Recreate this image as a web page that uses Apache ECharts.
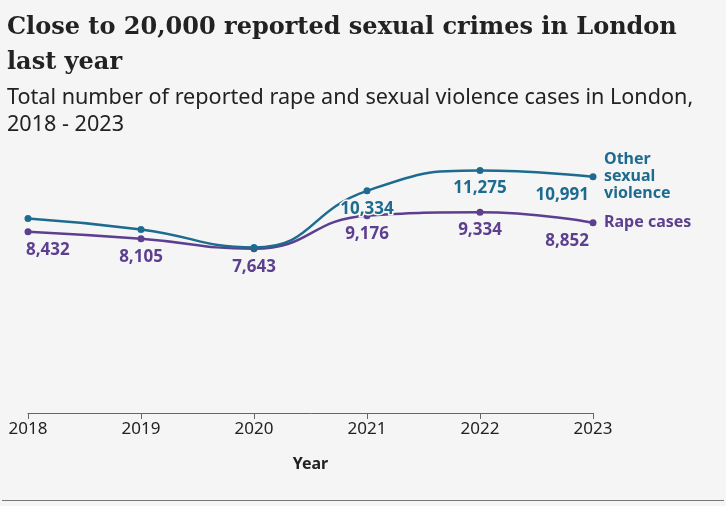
<!DOCTYPE html>
<html>
<head>
<meta charset="utf-8">
<script src="https://cdn.jsdelivr.net/npm/echarts@6/dist/echarts.min.js"></script>
<style>
  html, body { margin: 0; padding: 0; background: #f5f5f5; }
  #chart { width: 726px; height: 506px; }
</style>
</head>
<body>
<div id="chart"></div>
<script>
var years = ['2018', '2019', '2020', '2021', '2022', '2023'];
var otherViolence = [9050, 8540, 7700, 10334, 11275, 10991];
var rapeCases = [8432, 8105, 7643, 9176, 9334, 8852];
// only these points carry a value label on the other series
var otherLabelShown = [false, false, false, true, true, true];

var teal = '#1d6b8e';
var purple = '#5c3f8e';

var myChart = echarts.init(document.getElementById('chart'));

function labelled(values, shown) {
    var last = values.length - 1;
    return values.map(function (v, i) {
        var lab = { show: shown ? shown[i] : true };
        if (i === 0) { lab.align = 'left'; lab.offset = [-2, 0]; }
        if (i === last) { lab.align = 'right'; lab.offset = [-4, 0]; }
        return { value: v, label: lab };
    });
}

var option = {
    backgroundColor: '#f5f5f5',
    animation: false,
    title: [
        {
            text: 'Close to 20,000 reported sexual crimes in London\nlast year',
            left: 2, top: 5,
            textStyle: { fontFamily: 'DejaVu Serif', fontWeight: 'bold', fontSize: 24, lineHeight: 35, color: '#222' }
        },
        {
            text: 'Total number of reported rape and sexual violence cases in London,\n2018 - 2023',
            left: 2, top: 79,
            textStyle: { fontFamily: 'Noto Sans', fontWeight: 'normal', fontSize: 21.6, lineHeight: 27, color: '#222' }
        }
    ],
    grid: { left: 28, right: 133, top: 155, bottom: 93 },
    xAxis: {
        type: 'category',
        data: years,
        boundaryGap: false,
        name: 'Year',
        nameLocation: 'middle',
        nameGap: 43,
        nameTextStyle: { fontFamily: 'Noto Sans', fontWeight: 'bold', fontSize: 16, color: '#222' },
        axisLine: { lineStyle: { color: '#666' } },
        axisTick: { show: true, alignWithLabel: true, length: 6, lineStyle: { color: '#666' } },
        axisLabel: { fontFamily: 'Noto Sans', fontSize: 17, color: '#222', margin: 8 }
    },
    yAxis: {
        type: 'value',
        min: 0,
        max: 12000,
        show: false
    },
    series: [
        {
            name: 'Other sexual violence',
            type: 'line',
            smooth: true,
            data: labelled(otherViolence, otherLabelShown),
            symbol: 'circle',
            symbolSize: 7,
            lineStyle: { color: teal, width: 2.5 },
            itemStyle: { color: teal },
            label: {
                position: 'bottom', distance: 6,
                formatter: function (p) { return p.value.toLocaleString('en-GB'); },
                fontFamily: 'Noto Sans', fontWeight: 'bold', fontSize: 17, color: teal,
                textBorderColor: '#f5f5f5', textBorderWidth: 3
            },
            endLabel: {
                show: true,
                formatter: 'Other\nsexual\nviolence',
                distance: 11,
                fontFamily: 'Noto Sans', fontWeight: 'bold', fontSize: 16, lineHeight: 17, color: teal
            },
            z: 3
        },
        {
            name: 'Rape cases',
            type: 'line',
            smooth: true,
            data: labelled(rapeCases),
            symbol: 'circle',
            symbolSize: 7,
            lineStyle: { color: purple, width: 2.5 },
            itemStyle: { color: purple },
            label: {
                position: 'bottom', distance: 6,
                formatter: function (p) { return p.value.toLocaleString('en-GB'); },
                fontFamily: 'Noto Sans', fontWeight: 'bold', fontSize: 17, color: purple,
                textBorderColor: '#f5f5f5', textBorderWidth: 3
            },
            endLabel: {
                show: true,
                formatter: 'Rape cases',
                distance: 11,
                fontFamily: 'Noto Sans', fontWeight: 'bold', fontSize: 16, color: purple
            },
            z: 2
        }
    ],
    graphic: [
        {
            type: 'line',
            shape: { x1: 2, y1: 500.5, x2: 724, y2: 500.5 },
            style: { stroke: '#777', lineWidth: 1 }
        }
    ]
};

myChart.setOption(option);
</script>
</body>
</html>
